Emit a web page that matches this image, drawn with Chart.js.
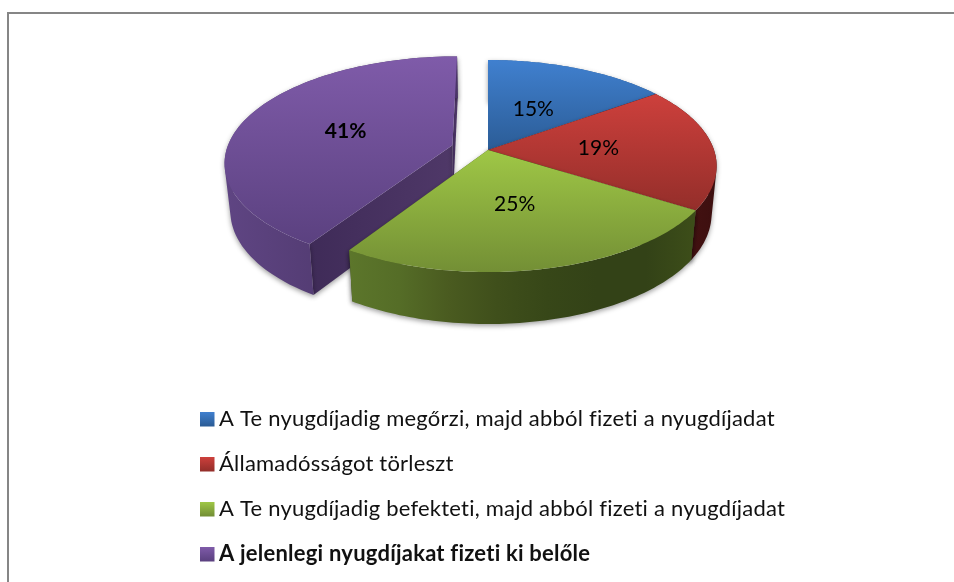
<!DOCTYPE html>
<html><head><meta charset="utf-8">
<style>html,body{margin:0;padding:0;background:#fff}#w{position:absolute;left:0;top:0;width:954px;height:582px}</style>
<script src="https://cdn.jsdelivr.net/npm/chart.js@4/dist/chart.umd.min.js"></script>
</head><body><div id="w"><canvas id="c" width="954" height="582"></canvas></div>
<script>
const categories = ["A Te nyugdíjadig megőrzi, majd abból fizeti a nyugdíjadat","Államadósságot törleszt","A Te nyugdíjadig befekteti, majd abból fizeti a nyugdíjadat","A jelenlegi nyugdíjakat fizeti ki belőle"];
const values = [15,19,25,41];
const labelsPct = ["15%","19%","25%","41%"];
const boldFlags = [false,false,false,true];
const explode = [0,0,0,0.165];
const labelFrac = [0.47,0.49,0.5,0.51];
const topColors = [["#4080cf","#2b5c96"],["#cd403c","#942e2a"],["#9fc746","#738f35"],["#7f5ba9","#5b4180"]];
const rimStops = [["#2b5c96","#2b5c96"],["#4e1414","#3c0f0f"],["#5c762b","#556d27","#4a5b20","#3f4f1b","#374718","#334217","#334217","#3d4e19"],["#5f4583","#513a70","#4a3468"]];
const cutColors = [["#23507f","#23507f"],["#3c0f0f","#3c0f0f"],["#4a5e20","#4a5e20"],["#4f3868","#3f2b58"]];
const legendY = [419,464,509,554];

const CX=488, CY=150, RX=226, RY=103.6, K=0.151, SHRINK=0.978;
function proj(u,v){const s=1/(1-K*v);return {x:CX+RX*u*s,y:CY+RY*v*s,v};}
function low(p){return {x:CX+(p.x-CX)*SHRINK,y:p.y+47+5*p.v};}

const pie3d = {
  id:'pie3d',
  beforeDatasetDraw(chart){
    const ctx=chart.ctx, arcs=chart.getDatasetMeta(0).data;
    const order=[3,0,1,2];
    const pts=i=>{
      const a=arcs[i], m=(a.startAngle+a.endAngle)/2;
      const ox=Math.cos(m)*explode[i], oy=Math.sin(m)*explode[i];
      const r=[];const N=80;
      for(let k=0;k<=N;k++){const t=a.startAngle+(a.endAngle-a.startAngle)*k/N;r.push(proj(ox+Math.cos(t),oy+Math.sin(t)));}
      return {rim:r,apex:proj(ox,oy)};
    };
    const poly=(list)=>{ctx.beginPath();list.forEach((p,i)=>i?ctx.lineTo(p.x,p.y):ctx.moveTo(p.x,p.y));ctx.closePath();};
    ctx.save();
    order.forEach(i=>{
      const g=pts(i), rim=g.rim;
      const A=g.apex, S=rim[0], E=rim[rim.length-1];
      ctx.save();
      ctx.shadowColor='rgba(0,0,0,0.38)';ctx.shadowBlur=5;ctx.shadowOffsetY=2;ctx.shadowOffsetX=0;
      // radial faces
      [S,E].forEach(P=>{
        poly([A,P,low(P),low(A)]);
        const lg=ctx.createLinearGradient(Math.min(A.x,P.x),0,Math.max(A.x,P.x)+0.01,0);
        lg.addColorStop(0,cutColors[i][1]);lg.addColorStop(1,cutColors[i][0]);
        ctx.fillStyle=lg;ctx.fill();
      });
      // outer wall: one consistently wound quad per rim step, so the silhouette stays filled
      ctx.beginPath();
      for(let k=0;k<rim.length-1;k++){
        const q=[rim[k],rim[k+1],low(rim[k+1]),low(rim[k])];
        let area=0;
        q.forEach((p,j)=>{const n=q[(j+1)%4];area+=p.x*n.y-n.x*p.y;});
        if(area<0)q.reverse();
        q.forEach((p,j)=>j?ctx.lineTo(p.x,p.y):ctx.moveTo(p.x,p.y));
        ctx.closePath();
      }
      const xs=rim.map(p=>p.x),x0=Math.min(...xs),x1=Math.max(...xs);
      const wg=ctx.createLinearGradient(x0,0,x1,0);
      const st=rimStops[i];st.forEach((c,k)=>wg.addColorStop(k/(st.length-1),c));
      ctx.fillStyle=wg;ctx.fill();
      ctx.restore();
      // top face
      poly([A].concat(rim));
      const ys=rim.map(p=>p.y).concat(A.y),y0=Math.min(...ys),y1=Math.max(...ys);
      const tg=ctx.createLinearGradient(0,y0,0,y1);
      tg.addColorStop(0,topColors[i][0]);tg.addColorStop(1,topColors[i][1]);
      ctx.fillStyle=tg;ctx.fill();
    });
    // value labels
    ctx.fillStyle='#000';ctx.textAlign='center';ctx.textBaseline='middle';
    arcs.forEach((a,i)=>{
      const m=(a.startAngle+a.endAngle)/2;
      const p=proj(Math.cos(m)*(explode[i]+labelFrac[i]),Math.sin(m)*(explode[i]+labelFrac[i]));
      ctx.font=(boldFlags[i]?'bold ':'')+'21px Lato';
      ctx.fillText(labelsPct[i],p.x,p.y);
    });
    // legend
    ctx.textAlign='left';
    categories.forEach((t,i)=>{
      const y=legendY[i];
      const g=ctx.createLinearGradient(0,y-7,0,y+7);
      g.addColorStop(0,topColors[i][0]);g.addColorStop(1,topColors[i][1]);
      ctx.fillStyle=g;ctx.fillRect(200,y-7,14.5,14.5);
      ctx.fillStyle='#111';
      ctx.font=(boldFlags[i]?'bold ':'')+'22px Lato';
      ctx.letterSpacing='0.22px';
      ctx.fillText(t,219,y-0.5);
      ctx.letterSpacing='0px';
    });
    ctx.restore();
    return false;
  }
};
const frame={id:'frame',beforeDraw(chart){const c=chart.ctx;c.save();c.fillStyle='#868686';c.fillRect(7,12,947,2);c.fillRect(7,12,2,570);c.restore();}};
new Chart(document.getElementById('c'),{
  type:'pie',
  data:{labels:categories,datasets:[{data:values,backgroundColor:topColors.map(c=>c[0]),borderWidth:0}]},
  plugins:[frame,pie3d],
  options:{responsive:false,animation:false,layout:{padding:{left:22,bottom:282}},
    plugins:{legend:{display:false},tooltip:{enabled:false}}}
});
</script></body></html>
